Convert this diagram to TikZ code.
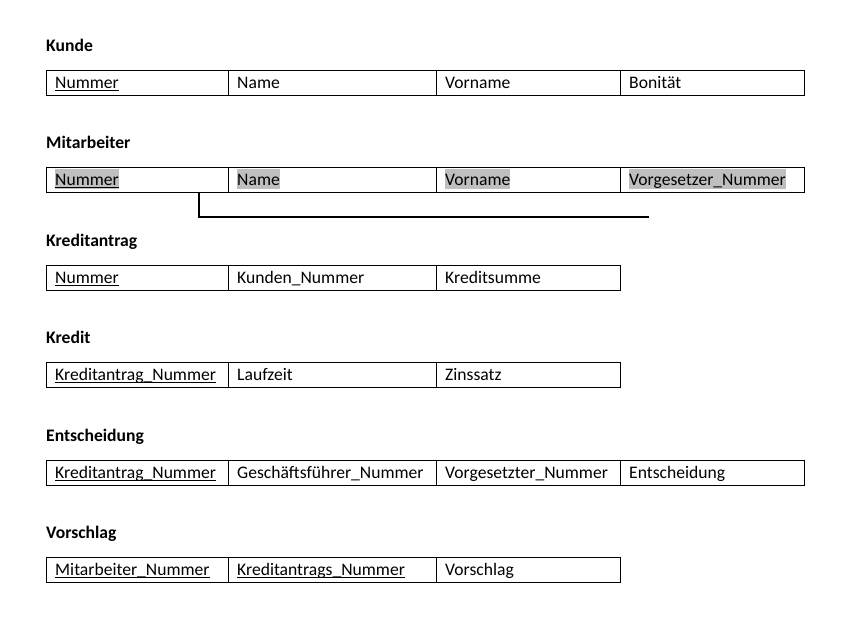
\documentclass[tikz,border=0pt]{standalone}
\usepackage{fontspec}
\setmainfont{Carlito}
\definecolor{hl}{RGB}{191,191,191}
\tikzset{
  cellbox/.style={draw=black, line width=1pt, minimum height=25pt, inner sep=0pt, outer sep=0pt},
  celltext/.style={inner sep=0pt, anchor=base west, font=\fontsize{17.6}{20}\selectfont},
  hltext/.style={fill=hl, text height=16pt, text depth=4pt},
  title/.style={inner sep=0pt, anchor=base west, font=\fontsize{17.6}{20}\selectfont\bfseries},
  uline/.style={line width=1pt},
  conn/.style={line width=2pt}
}
% #1 name, #2 x-left, #3 x-right, #4 y-top, #5 extra text style, #6 text
\newcommand{\tcell}[6]{%
  \node[cellbox, minimum width={#3-#2}, anchor=north west] (#1) at (#2,#4) {};
  \node[celltext,#5] (#1t) at (#2+9,#4+18) {#6};
}
\newcommand{\ul}[1]{%
  \draw[uline] ([yshift=-2.8pt]#1t.base west) -- ([yshift=-2.8pt]#1t.base east);
}
\begin{document}
\begin{tikzpicture}[x=1pt,y=-1pt]
\useasboundingbox (0,0) rectangle (859,635);
% Kunde
\node[title] (tk) at (46,51) {Kunde};
\tcell{ka}{46}{228}{70}{}{Nummer}\ul{ka}
\tcell{kb}{228}{436}{70}{}{Name}
\tcell{kc}{436}{620}{70}{}{Vorname}
\tcell{kd}{620}{804}{70}{}{Bonität}
% Mitarbeiter
\node[title] (tm) at (46,148) {Mitarbeiter};
\tcell{ma}{46}{228}{167}{hltext}{Nummer}\ul{ma}
\tcell{mb}{228}{436}{167}{hltext}{Name}
\tcell{mc}{436}{620}{167}{hltext}{Vorname}
\tcell{md}{620}{804}{167}{hltext}{Vorgesetzer\_Nummer}
\coordinate (mend) at (649,217);
\draw[conn] ([xshift=152.5pt]ma.south west) |- (mend);
% Kreditantrag
\node[title] (tka) at (46,246) {Kreditantrag};
\tcell{aa}{46}{228}{265}{}{Nummer}\ul{aa}
\tcell{ab}{228}{436}{265}{}{Kunden\_Nummer}
\tcell{ac}{436}{620}{265}{}{Kreditsumme}
% Kredit
\node[title] (tkr) at (46,343) {Kredit};
\tcell{ra}{46}{228}{362}{}{Kreditantrag\_Nummer}\ul{ra}
\tcell{rb}{228}{436}{362}{}{Laufzeit}
\tcell{rc}{436}{620}{362}{}{Zinssatz}
% Entscheidung
\node[title] (te) at (46,441) {Entscheidung};
\tcell{ea}{46}{228}{460}{}{Kreditantrag\_Nummer}\ul{ea}
\tcell{eb}{228}{436}{460}{}{Geschäftsführer\_Nummer}
\tcell{ec}{436}{620}{460}{}{Vorgesetzter\_Nummer}
\tcell{ed}{620}{804}{460}{}{Entscheidung}
% Vorschlag
\node[title] (tv) at (46,538) {Vorschlag};
\tcell{va}{46}{228}{557}{}{Mitarbeiter\_Nummer}\ul{va}
\tcell{vb}{228}{436}{557}{}{Kreditantrags\_Nummer}\ul{vb}
\tcell{vc}{436}{620}{557}{}{Vorschlag}
\end{tikzpicture}
\end{document}
